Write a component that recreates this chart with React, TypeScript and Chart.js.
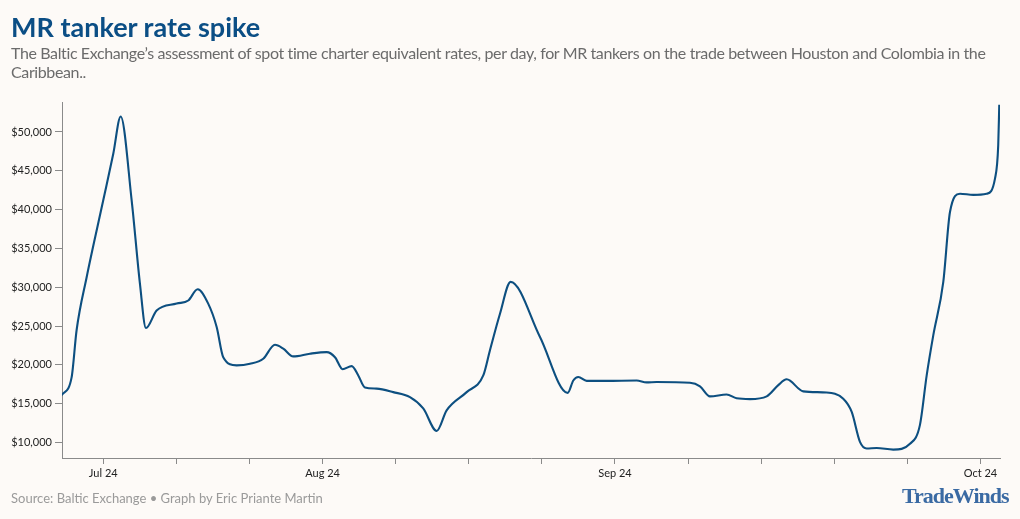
import React, { useEffect, useRef } from "react";
import { Chart, registerables } from "chart.js";

Chart.register(...registerables);

// Day offsets relative to the "Jul 24" tick (ticks are 7 days apart)
const days = [
  -3.98, -3.03, -2.55, -1.59, 0, 0.96, 1.67, 2.72, 3.51, 4.09, 5.11, 7.03, 8.14, 9.04, 10.05, 10.86,
  11.49, 12.77, 14.05, 15.32, 16.44, 17.24, 18.19, 19.79, 21.39, 22.19, 22.92, 23.79, 24.42, 25.06,
  26.18, 27.77, 29.37, 30.64, 31.93, 32.88, 34.8, 36.39, 37.03, 37.99, 39.01, 41.82, 44.47, 45.01,
  45.49, 46.29, 48.2, 51.08, 52.03, 52.99, 56.18, 57.14, 58.1, 59.69, 60.65, 61.93, 63.53, 64.64,
  65.44, 67.03, 69.27, 70.86, 71.67, 72.46, 73.1, 74.06, 75.65, 77.25, 78.2, 78.85, 79.48, 80.44,
  81.08, 82.04, 83.31, 84.59, 85.39, 85.7, 85.8,
];

const rates = [
  16100, 18400, 24500, 31300, 41200, 47200, 52000, 41200, 30500, 24750, 27000, 27900, 28300, 29750,
  27900, 24900, 21000, 19950, 20150, 20800, 22600, 22100, 21100, 21450, 21650, 21000, 19450, 19850,
  18650, 17100, 16950, 16500, 15850, 14400, 11500, 14150, 16500, 18650, 21900, 26600, 30700, 23600,
  16400, 18000, 18450, 17950, 17950, 18000, 17750, 17800, 17700, 17250, 15950, 16200, 15700, 15600,
  15950, 17400, 18150, 16600, 16450, 15650, 13950, 10100, 9250, 9300, 9100, 9850, 12250, 18650,
  23800, 30700, 39700, 42050, 41900, 42050, 44000, 48300, 53500,
];

const xTickDays = [0, 7, 14, 21, 28, 35, 42, 49, 56, 63, 70, 77, 84];
const xTickLabels: Record<number, string> = { 0: "Jul 24", 21: "Aug 24", 49: "Sep 24", 84: "Oct 24" };
const yTicks = [10000, 15000, 20000, 25000, 30000, 35000, 40000, 45000, 50000];

const BG = "#fdfaf7";

export default function App() {
  const ref = useRef<HTMLCanvasElement>(null);

  useEffect(() => {
    if (!ref.current) return;
    const chart = new Chart(ref.current, {
      type: "line",
      data: {
        datasets: [
          {
            data: days.map((d, i) => ({ x: d, y: rates[i] })),
            borderColor: "#0d4f80",
            borderWidth: 2.1,
            pointRadius: 0,
            fill: false,
            cubicInterpolationMode: "monotone",
          },
        ],
      },
      options: {
        animation: false,
        responsive: false,
        maintainAspectRatio: false,
        events: [],
        layout: { padding: { top: 102, right: 20, left: 0, bottom: 0 } },
        plugins: { legend: { display: false }, tooltip: { enabled: false }, title: { display: false } },
        scales: {
          x: {
            type: "linear",
            min: -3.95,
            max: 85.87,
            afterBuildTicks: (s: any) => {
              s.ticks = xTickDays.map((v) => ({ value: v }));
            },
            afterFit: (s: any) => {
              s.height = 61;
            },
            ticks: {
              autoSkip: false,
              maxRotation: 0,
              padding: 3,
              color: "#222",
              font: { family: "Lato", size: 11 },
              callback: (v: any) => xTickLabels[v as number] ?? "",
            },
            grid: { drawOnChartArea: false, drawTicks: true, tickLength: 6, color: "#8a8a8a", lineWidth: 1 },
            border: { display: true, color: "#8a8a8a", width: 1 },
          },
          y: {
            type: "linear",
            min: 8017,
            max: 53863,
            afterBuildTicks: (s: any) => {
              s.ticks = yTicks.map((v) => ({ value: v }));
            },
            afterFit: (s: any) => {
              s.width = 62;
            },
            ticks: {
              padding: 3,
              color: "#222",
              font: { family: "Lato", size: 11 },
              callback: (v: any) => "$" + Number(v).toLocaleString("en-US"),
            },
            grid: { drawOnChartArea: false, drawTicks: true, tickLength: 7, color: "#8a8a8a", lineWidth: 1 },
            border: { display: true, color: "#8a8a8a", width: 1 },
          },
        },
      },
    });
    return () => chart.destroy();
  }, []);

  return (
    <div
      style={{
        position: "fixed",
        left: 0,
        top: 0,
        width: 1020,
        height: 519,
        background: BG,
        overflow: "hidden",
        fontFamily: "Lato, sans-serif",
      }}
    >
      <canvas ref={ref} width={1020} height={519} style={{ position: "absolute", left: 0, top: 0 }} />
      <div
        style={{
          position: "absolute",
          left: 11,
          top: 13,
          fontSize: 27,
          lineHeight: "27px",
          fontWeight: 700,
          color: "#0b4e85",
          whiteSpace: "nowrap",
        }}
      >
        MR tanker rate spike
      </div>
      <div
        style={{
          position: "absolute",
          left: 11,
          top: 43,
          fontSize: 16,
          lineHeight: "19px",
          letterSpacing: "-0.38px",
          color: "#6b6b6b",
          whiteSpace: "nowrap",
        }}
      >
        The Baltic Exchange’s assessment of spot time charter equivalent rates, per day, for MR tankers on the trade between Houston and Colombia in the
        <br />
        Caribbean..
      </div>
      <div
        style={{
          position: "absolute",
          left: 11,
          top: 490,
          fontSize: 13,
          lineHeight: "16px",
          color: "#9a9a9a",
          whiteSpace: "nowrap",
        }}
      >
        Source: Baltic Exchange • Graph by Eric Priante Martin
      </div>
      <div
        style={{
          position: "absolute",
          left: 902,
          top: 484,
          fontSize: 22,
          lineHeight: "24px",
          fontWeight: 700,
          letterSpacing: "-1px",
          fontFamily: "'Liberation Serif', 'DejaVu Serif', serif",
          color: "#3a6aa3",
          whiteSpace: "nowrap",
        }}
      >
        TradeWinds
      </div>
    </div>
  );
}
